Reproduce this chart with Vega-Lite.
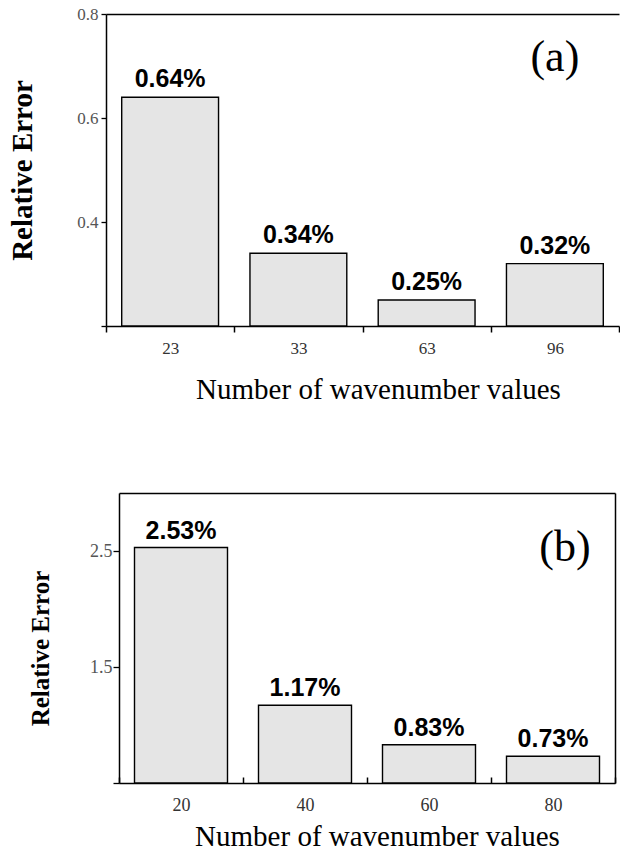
{
  "$schema": "https://vega.github.io/schema/vega-lite/v6.json",
  "background": "white",
  "padding": {"left": 8, "top": 5, "right": 0, "bottom": 0},
  "config": {"view": {"stroke": null}, "font": "Liberation Serif"},
  "datasets": {
    "panelA": [
      {"n": "23", "err": 0.64, "label": "0.64%"},
      {"n": "33", "err": 0.34, "label": "0.34%"},
      {"n": "63", "err": 0.25, "label": "0.25%"},
      {"n": "96", "err": 0.32, "label": "0.32%"}
    ],
    "panelB": [
      {"n": "20", "err": 2.53, "label": "2.53%"},
      {"n": "40", "err": 1.17, "label": "1.17%"},
      {"n": "60", "err": 0.83, "label": "0.83%"},
      {"n": "80", "err": 0.73, "label": "0.73%"}
    ]
  },
  "vconcat": [
    {
      "width": 513,
      "height": 312,
      "data": {"name": "panelA"},
      "resolve": {"axis": {"x": "independent", "y": "independent"}},
      "layer": [
        {
          "mark": {"type": "bar", "fill": "#e5e5e5", "stroke": "black", "strokeWidth": 1.4, "width": {"band": 0.755}},
          "encoding": {
            "x": {
              "field": "n", "type": "ordinal", "sort": null,
              "scale": {"paddingInner": 0, "paddingOuter": 0},
              "axis": {
                "orient": "bottom", "title": "Number of wavenumber values", "labelAngle": 0,
                "tickBand": "extent", "tickSize": 6, "tickWidth": 1.5, "tickColor": "black",
                "domainColor": "black", "domainWidth": 1.5,
                "labelFont": "Liberation Serif", "labelFontSize": 17, "labelColor": "#333", "labelPadding": 8,
                "titleFont": "Liberation Serif", "titleFontSize": 29, "titleFontWeight": "normal", "titleColor": "black",
                "titlePadding": 19, "titleX": 272
              }
            },
            "y": {
              "field": "err", "type": "quantitative",
              "scale": {"domain": [0.2, 0.8], "zero": false, "nice": false},
              "axis": {
                "values": [0.2, 0.4, 0.6, 0.8], "format": ".1f",
                "labelExpr": "datum.value < 0.3 ? '' : datum.label",
                "grid": false, "tickSize": 5, "tickWidth": 1.3, "tickColor": "black",
                "domainColor": "black", "domainWidth": 1.5,
                "labelFont": "Liberation Serif", "labelFontSize": 17, "labelColor": "#555", "labelPadding": 3,
                "title": "Relative Error", "titleFont": "Liberation Serif", "titleFontSize": 29,
                "titleFontWeight": "bold", "titleColor": "black", "titleX": -84, "titleBaseline": "middle"
              }
            },
            "y2": {"datum": 0.2}
          }
        },
        {
          "mark": {"type": "text", "font": "Liberation Sans", "fontWeight": "bold", "fontSize": 25, "baseline": "alphabetic", "dy": -10, "fill": "black"},
          "encoding": {
            "x": {"field": "n", "type": "ordinal", "sort": null,
                  "axis": {"orient": "top", "labels": false, "ticks": false, "title": null, "domainColor": "black", "domainWidth": 1.5}},
            "y": {"field": "err", "type": "quantitative", "axis": null},
            "text": {"field": "label"}
          }
        },
        {
          "data": {"values": [{"tag": "(a)"}]},
          "mark": {"type": "text", "font": "Liberation Serif", "fontSize": 44, "baseline": "alphabetic", "fill": "black"},
          "encoding": {
            "x": {"datum": "96", "type": "ordinal", "axis": null},
            "y": {"datum": 0.69, "type": "quantitative", "axis": null},
            "text": {"field": "tag"}
          }
        }
      ]
    },
    {
      "width": 509,
      "height": 290,
      "data": {"name": "panelB"},
      "resolve": {"axis": {"x": "independent", "y": "independent"}},
      "layer": [
        {
          "mark": {"type": "bar", "fill": "#e5e5e5", "stroke": "black", "strokeWidth": 1.4, "width": {"band": 0.75}},
          "encoding": {
            "x": {
              "field": "n", "type": "ordinal", "sort": null,
              "scale": {"range": [13, 509], "paddingInner": 0, "paddingOuter": 0},
              "axis": {
                "orient": "bottom", "title": "Number of wavenumber values", "labelAngle": 0,
                "tickBand": "extent", "tickSize": -6, "tickWidth": 1.5, "tickColor": "black",
                "domainColor": "black", "domainWidth": 1.5,
                "labelFont": "Liberation Serif", "labelFontSize": 18, "labelColor": "#333", "labelPadding": 19,
                "titleFont": "Liberation Serif", "titleFontSize": 29, "titleFontWeight": "normal", "titleColor": "black",
                "titlePadding": 8, "titleX": 271
              }
            },
            "y": {
              "field": "err", "type": "quantitative",
              "scale": {"domain": [0.5, 3.0], "zero": false, "nice": false},
              "axis": {
                "values": [0.5, 1.5, 2.5], "format": ".1f",
                "labelExpr": "datum.value < 1 ? '' : datum.label",
                "offset": -13,
                "grid": false, "tickSize": 6, "tickWidth": 1.3, "tickColor": "black",
                "domainColor": "black", "domainWidth": 1.5,
                "labelFont": "Liberation Serif", "labelFontSize": 18, "labelColor": "#555", "labelPadding": 1,
                "title": "Relative Error", "titleFont": "Liberation Serif", "titleFontSize": 25,
                "titleFontWeight": "bold", "titleColor": "black", "titleX": -79, "titleY": 155, "titleBaseline": "middle"
              }
            },
            "y2": {"datum": 0.5}
          }
        },
        {
          "mark": {"type": "text", "font": "Liberation Sans", "fontWeight": "bold", "fontSize": 25, "baseline": "alphabetic", "dy": -9, "fill": "black"},
          "encoding": {
            "x": {"field": "n", "type": "ordinal", "sort": null,
                  "axis": {"orient": "top", "labels": false, "ticks": false, "title": null, "domainColor": "black", "domainWidth": 1.5}},
            "y": {"field": "err", "type": "quantitative", "axis": null},
            "text": {"field": "label"}
          }
        },
        {
          "data": {"values": [{"tag": "(b)"}]},
          "mark": {"type": "text", "font": "Liberation Serif", "fontSize": 44, "baseline": "alphabetic", "dx": 12, "fill": "black"},
          "encoding": {
            "x": {"datum": "80", "type": "ordinal", "axis": null},
            "y": {"datum": 2.41, "type": "quantitative",
                  "axis": {"orient": "right", "labels": false, "ticks": false, "title": null, "domainColor": "black", "domainWidth": 1.5}},
            "text": {"field": "tag"}
          }
        }
      ]
    }
  ],
  "spacing": 89
}
